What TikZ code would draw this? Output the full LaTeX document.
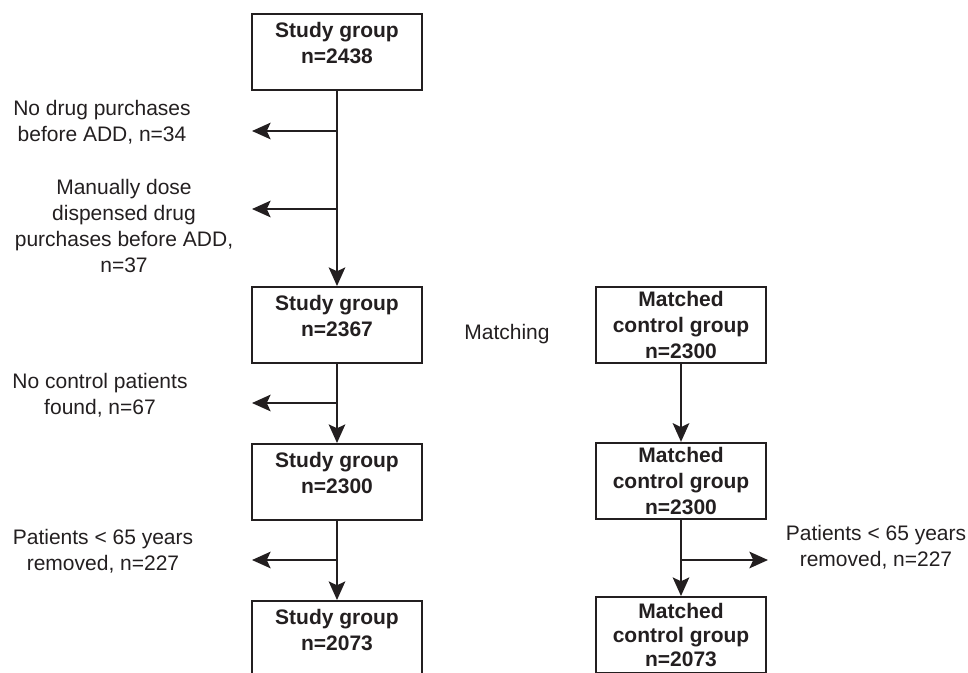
\documentclass[tikz,border=0pt]{standalone}
\usepackage{fontspec}
\setmainfont{Liberation Sans}
\usetikzlibrary{arrows.meta}
\definecolor{ink}{HTML}{231F20}

\begin{document}
\begin{tikzpicture}[x=0.75pt,y=-0.75pt,
		font=\fontsize{15.75}{19.5}\selectfont,
		box/.style={draw=ink,text=ink,line width=1.5pt,minimum width=127.5pt,minimum height=57pt,align=center,font=\fontsize{15.75}{19.5}\selectfont\bfseries},
		note/.style={text=ink,align=center},
		arr/.style={draw=ink,line width=1.4pt,-{Stealth[length=14pt,width=12.5pt,inset=3pt]}}]
		\useasboundingbox (0,0) rectangle (968,672);
		\node[box](b1) at (337,52) {Study group\\n=2438\\[-6.5pt]\mbox{}};
		\node[box](b2) at (337,325) {Study group\\n=2367\\[-6.5pt]\mbox{}};
		\node[box](b3) at (337,482) {Study group\\n=2300\\[-6.5pt]\mbox{}};
		\node[box](b4) at (337,639) {Study group\\n=2073\\[-6.5pt]\mbox{}};
		\node[box](m1) at (681,325) {Matched\\control group\\n=2300};
		\node[box](m2) at (681,481) {Matched\\control group\\n=2300};
		\node[box](m3) at (681,635) {Matched\\[-1.5pt]control group\\[-1.5pt]n=2073};
		\node[note](match) at (507,334) {Matching};
		\node[note](l1) at (102,122) {No drug purchases\\before ADD, n=34};
		\node[note](l2) at (124,226) {Manually dose\\dispensed drug\\purchases before ADD,\\n=37};
		\node[note](l3) at (100,395) {No control patients\\found, n=67};
		\node[note](l4) at (103,551) {Patients < 65 years\\removed, n=227};
		\node[note](r4) at (876,547) {Patients < 65 years\\removed, n=227};
		\coordinate (t1) at (252,131);
		\coordinate (t2) at (252,209);
		\coordinate (t3) at (252,403);
		\coordinate (t4) at (252,560);
		\coordinate (t5) at (768,560);
		\draw[arr] (b1)--(b2);
		\draw[arr] (b2)--(b3);
		\draw[arr] (b3)--(b4);
		\draw[arr] (m1)--(m2);
		\draw[arr] (m2)--(m3);
		\draw[arr] (b1.south |- t1)--(t1);
		\draw[arr] (b1.south |- t2)--(t2);
		\draw[arr] (b2.south |- t3)--(t3);
		\draw[arr] (b3.south |- t4)--(t4);
		\draw[arr] (m2.south |- t5)--(t5);
	\end{tikzpicture}
\end{document}
